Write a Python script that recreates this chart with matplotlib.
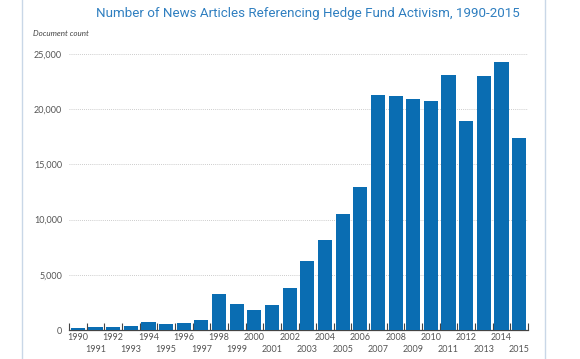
import matplotlib
matplotlib.use("Agg")
import matplotlib.pyplot as plt
from matplotlib.lines import Line2D
import matplotlib.transforms as mtransforms
import numpy as np

years = list(range(1990, 2016))
counts = [150, 250, 250, 350, 700, 550, 600, 950, 3300, 2350, 1800, 2300, 3780,
          6250, 8150, 10500, 12950, 21300, 21200, 20900, 20700, 23100, 18950,
          23000, 24300, 17350]
yticks = [0, 5000, 10000, 15000, 20000, 25000]
ytick_labels = ["0", "5,000", "10,000", "15,000", "20,000", "25,000"]
title = "Number of News Articles Referencing Hedge Fund Activism, 1990-2015"
ylabel = "Document count"

plt.rcParams['font.family'] = ['Lato', 'DejaVu Sans']

fig = plt.figure(figsize=(5.8, 3.59), dpi=100)
ax = fig.add_axes([69/580, 1-330/359, (528-69)/580, (330-54)/359])

x = np.arange(len(years))
ax.bar(x, counts, width=0.8, color="#0a6db2", zorder=3)

ax.set_xlim(-0.5, len(years) - 0.5)
ax.set_ylim(0, 25000)

ax.set_yticks(yticks)
ax.set_yticklabels(ytick_labels)
ax.tick_params(axis='y', length=0, pad=5, labelsize=6.5, labelcolor="#555555")
for yv in yticks[1:]:
    ax.axhline(yv, color="#bbbbbb", lw=0.6, ls=(0, (1, 1.5)), zorder=1)

ax.set_xticks([])
ax.set_xticks(np.arange(-0.5, len(years)), minor=True)
ax.tick_params(axis='x', which='minor', direction='in', length=5, width=0.8,
               color="#444444", labelbottom=False)

base = ax.get_xaxis_transform()
for i, (xi, yr) in enumerate(zip(x, years)):
    dy = -8 if i % 2 == 0 else -20
    tr = base + mtransforms.ScaledTranslation(0, dy / 72 * 0.72, fig.dpi_scale_trans)
    ax.text(xi, 0, str(yr), transform=tr, ha='center', va='center',
            fontsize=6.5, color="#555555")

for s in ['top', 'right', 'left']:
    ax.spines[s].set_visible(False)
ax.spines['bottom'].set_color("#444444")
ax.spines['bottom'].set_linewidth(0.9)

fig.text(308/580, 1-14/359, title, ha='center', va='center', fontsize=9.6,
         color="#2f7fc0", family=['Roboto', 'DejaVu Sans'])
fig.text(33/580, 1-34/359, ylabel, ha='left', va='center', fontsize=5.8,
         style='italic', color="#444444")

fig.add_artist(Line2D([22/580, 22/580], [0, 1], transform=fig.transFigure,
                      color="#c9d7e7", lw=1))
fig.add_artist(Line2D([545/580, 545/580], [0, 1], transform=fig.transFigure,
                      color="#c9d7e7", lw=1))

fig.savefig("out.png", dpi=100)
